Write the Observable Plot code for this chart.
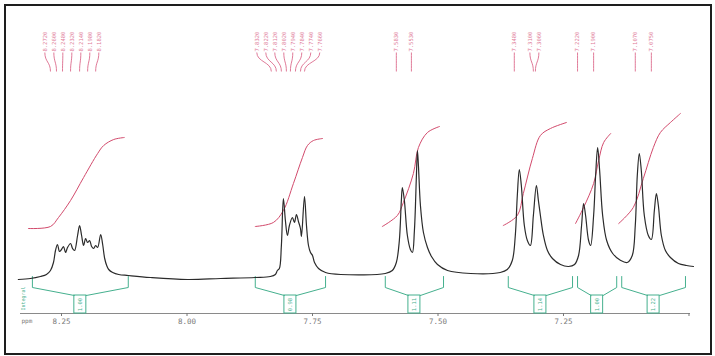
<!DOCTYPE html>
<html><head><meta charset="utf-8">
<script src="https://cdn.jsdelivr.net/npm/d3@7"></script>
<script src="https://cdn.jsdelivr.net/npm/@observablehq/plot@0.6"></script>
<style>
html,body{margin:0;padding:0;background:#fff;}
#wrap{position:relative;width:715px;height:356px;overflow:hidden;background:#fff;}
#wrap::after{content:"";position:absolute;left:4px;top:4px;width:704px;height:347px;border:2px solid #1e1e1e;pointer-events:none;}
</style></head><body><div id="wrap"></div>
<script>
// ---- spectrum trace (chemical shift in ppm, intensity) ----
const specPpm = [8.336,8.312,8.292,8.280,8.272,8.266,8.262,8.258,8.254,8.250,8.246,8.242,8.238,8.232,8.228,8.224,8.218,8.214,8.210,8.206,8.202,8.198,8.194,8.190,8.186,8.182,8.178,8.172,8.168,8.164,8.160,8.156,8.148,8.136,8.117,8.073,7.999,7.933,7.864,7.834,7.824,7.820,7.816,7.812,7.808,7.804,7.800,7.796,7.790,7.786,7.782,7.778,7.774,7.772,7.766,7.762,7.758,7.754,7.750,7.746,7.738,7.724,7.694,7.605,7.591,7.583,7.577,7.573,7.571,7.567,7.561,7.555,7.551,7.547,7.543,7.541,7.539,7.535,7.529,7.521,7.513,7.501,7.481,7.435,7.376,7.362,7.352,7.346,7.342,7.338,7.334,7.328,7.322,7.316,7.310,7.304,7.300,7.296,7.290,7.282,7.272,7.256,7.240,7.228,7.220,7.214,7.210,7.206,7.200,7.196,7.190,7.186,7.182,7.178,7.172,7.164,7.152,7.136,7.123,7.113,7.107,7.103,7.099,7.095,7.089,7.081,7.075,7.069,7.065,7.061,7.055,7.047,7.037,7.021,7.005,6.991];
const specInt = [-1,0,2,4,8,16,28,34,27,29,32,26,31,35,30,28,43,53,43,33,40,36,38,32,30,33,31,44,34,20,13,9,6,4,3,1,-1,0,1,2,4,8,10,33,80,58,43,53,61,56,64,57,50,42,82,53,33,26,23,16,10,6,4,5,8,16,38,78,91,78,43,29,26,48,103,128,113,73,46,31,22,14,8,5,6,9,18,43,83,109,93,53,38,33,63,93,78,63,43,28,20,14,12,14,23,53,75,63,38,33,63,103,131,108,63,38,25,18,16,23,53,103,125,108,63,43,39,68,85,73,43,28,21,15,13,12];

// ---- integral curves ----
const integralPpm = [
  [8.316,8.272,8.256,8.232,8.206,8.178,8.166,8.146,8.125],
  [7.864,7.828,7.808,7.788,7.770,7.760,7.748,7.730],
  [7.611,7.581,7.569,7.549,7.539,7.521,7.497],
  [7.370,7.342,7.330,7.312,7.296,7.276,7.244],
  [7.226,7.210,7.190,7.180,7.170,7.156],
  [7.140,7.111,7.091,7.071,7.057,7.037,7.017]
];
const integralVal = [
  [50,52,61,78,101,125,133,139,141],
  [52,56,68,95,121,133,138,140],
  [52,63,76,105,131,146,152],
  [53,63,85,120,143,150,156],
  [55,71,95,118,136,145],
  [55,71,100,131,146,156,165]
];

// ---- integration regions ----
const regionFrom  = [8.308, 7.864, 7.605, 7.360, 7.222, 7.134];
const regionTo    = [8.117, 7.724, 7.489, 7.232, 7.144, 7.007];
const regionLabel = ["1.00", "0.98", "1.11", "1.14", "1.00", "1.22"];

// ---- peak picks ----
const peakPpm = [8.272,8.260,8.248,8.232,8.214,8.198,8.182,
                 7.832,7.822,7.812,7.802,7.794,7.784,7.774,7.766,
                 7.583,7.553,
                 7.348,7.310,7.306,
                 7.222,7.190,
                 7.107,7.075];

// ---- axis ----
const tickValues = [8.25, 8.00, 7.75, 7.50, 7.25, 7.00];
const tickLabels = ["8.25", "8.00", "7.75", "7.50", "7.25", ""];
const axisTitle = "ppm";
const xDomain = [8.3317, 6.997];
const yDomain = [-35, 278];

const W = 715, H = 356, mL = 20, mR = 25, mT = 0, mB = 43;
const xs = Plot.scale({x: {domain: xDomain, range: [mL, W - mR]}});

const pink = "#d24a6c", pinkLabel = "#e07a98", green = "#45b08e", ink = "#2b2b2b";

const spectrum = specPpm.map((p, i) => ({ppm: p, v: specInt[i]}));
const integrals = integralPpm.flatMap((arr, k) => arr.map((p, i) => ({k, ppm: p, v: integralVal[k][i]})));

// integration brackets
const boxHalf = 6 * Math.abs(xDomain[0] - xDomain[1]) / (W - mL - mR);
const brackets = [], boxes = [];
regionFrom.forEach((a, i) => {
  const b = regionTo[i], c = (a + b) / 2;
  brackets.push({k: i + "L", ppm: a, v: 2}, {k: i + "L", ppm: a, v: -9}, {k: i + "L", ppm: c + boxHalf, v: -17});
  brackets.push({k: i + "R", ppm: b, v: 2}, {k: i + "R", ppm: b, v: -9}, {k: i + "R", ppm: c - boxHalf, v: -17});
  boxes.push({x1: c + boxHalf, x2: c - boxHalf, c, label: regionLabel[i]});
});

// peak label spreading (pixel space)
function spread(px, gap) {
  const order = d3.range(px.length).sort((a, b) => px[a] - px[b]);
  let clusters = order.map(i => ({idx: [i], center: px[i]}));
  const pos = c => c.idx.map((_, k) => c.center + (k - (c.idx.length - 1) / 2) * gap);
  let merged = true;
  while (merged) {
    merged = false;
    for (let k = 0; k < clusters.length - 1; k++) {
      const pa = pos(clusters[k]), pb = pos(clusters[k + 1]);
      if (pb[0] - pa[pa.length - 1] < gap) {
        const idx = clusters[k].idx.concat(clusters[k + 1].idx);
        clusters.splice(k, 2, {idx, center: d3.mean(idx, i => px[i])});
        merged = true; break;
      }
    }
  }
  const out = new Array(px.length);
  clusters.forEach(c => pos(c).forEach((p, k) => out[c.idx[k]] = p));
  return out;
}
const labelPx = spread(peakPpm.map(p => xs.apply(p)), 9);
const peaks = peakPpm.map((p, i) => ({ppm: p, lx: xs.invert(labelPx[i]), text: p.toFixed(4)}));

const chart = Plot.plot({
  width: W, height: H,
  marginLeft: mL, marginRight: mR, marginTop: mT, marginBottom: mB,
  style: {background: "transparent", fontFamily: "DejaVu Sans Mono"},
  x: {domain: xDomain, range: [mL, W - mR]},
  y: {domain: yDomain, range: [H - mB, mT], axis: null},
  marks: [
    Plot.ruleY([yDomain[0]], {stroke: "#8a8a8a", strokeWidth: 1}),
    Plot.axisX(tickValues, {
      anchor: "bottom", tickSize: 3, tickPadding: 2, fontSize: 7.5,
      tickFormat: (d) => tickLabels[tickValues.indexOf(d)],
      stroke: "#777", fill: "#7a7a7a", label: null
    }),
    Plot.text([axisTitle], {frameAnchor: "bottom-left", dx: 1, dy: 9, textAnchor: "start", fontSize: 6, fill: "#7a7a7a"}),
    // integration brackets
    Plot.line(brackets, {x: "ppm", y: "v", z: "k", stroke: green, strokeWidth: 1}),
    Plot.rect(boxes, {x1: "x1", x2: "x2", y1: yDomain[0], y2: -17, stroke: green, fill: "none", strokeWidth: 1}),
    Plot.text(boxes, {x: "c", y: -26, text: "label", rotate: -90, fontSize: 5.5, fill: green}),
    Plot.text(["Integral"], {frameAnchor: "bottom-left", dx: 4, dy: -3, rotate: -90, textAnchor: "start", fontSize: 5, fill: green}),
    // integral curves
    Plot.line(integrals, {x: "ppm", y: "v", z: "k", stroke: pink, strokeWidth: 1, curve: "catmull-rom"}),
    // spectrum
    Plot.line(spectrum, {x: "ppm", y: "v", stroke: ink, strokeWidth: 1.2, curve: "catmull-rom"}),
    // peak labels
    Plot.link(peaks, {x1: "lx", y1: 226, x2: "ppm", y2: 207, curve: "bump-y", stroke: pinkLabel, strokeWidth: 1}),
    Plot.text(peaks, {x: "lx", y: 227, text: "text", rotate: -90, textAnchor: "start", fontSize: 5.5, fill: pinkLabel})
  ]
});
document.getElementById("wrap").appendChild(chart);
</script>
</body></html>
